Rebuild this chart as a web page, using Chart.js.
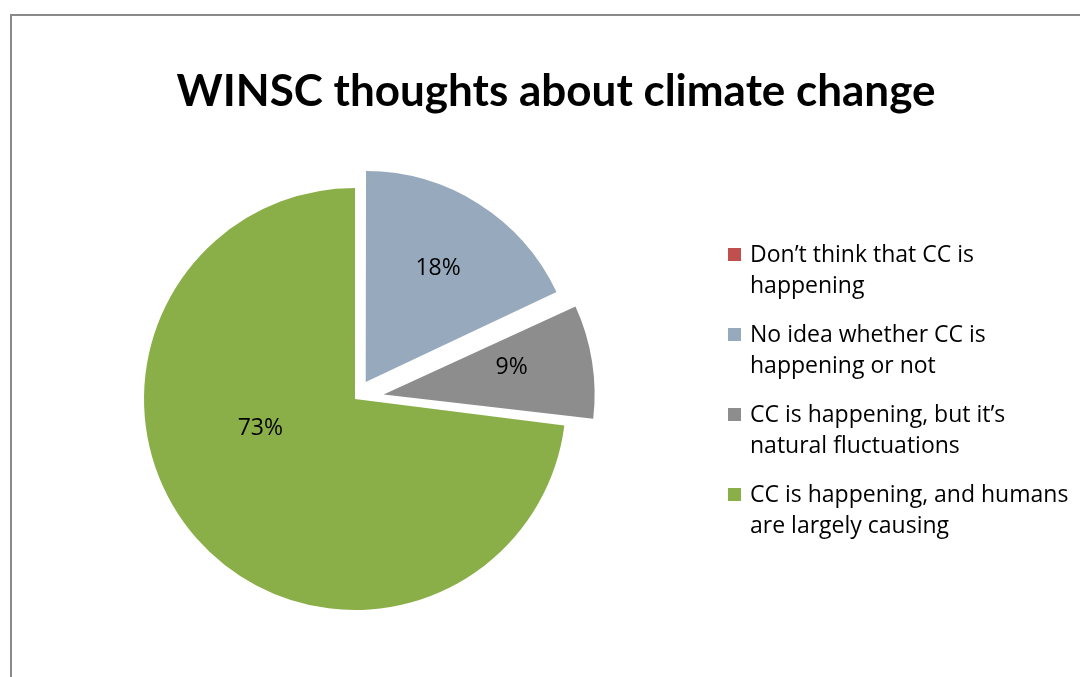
<!DOCTYPE html>
<html>
<head>
<meta charset="utf-8">
<script src="https://cdn.jsdelivr.net/npm/chart.js@4"></script>
<style>
  html, body { margin: 0; padding: 0; background: #fff; }
  #wrap { position: relative; width: 1080px; height: 677px; overflow: hidden; }
  #frame { position: absolute; left: 10px; top: 14px; width: 1200px; height: 800px;
           border-left: 2px solid #8a8a8a; border-top: 2px solid #8a8a8a; }
  #title { position: absolute; left: 0; top: 63px; width: 1112px; text-align: center;
           font-family: Lato, sans-serif; font-weight: bold; font-size: 44px; color: #000; line-height: 52px; }
  #legend { position: absolute; left: 728px; top: 238px; font-family: "Open Sans", sans-serif; font-size: 23px; color: #000; }
  .item { position: relative; padding-left: 22px; line-height: 31px; margin-bottom: 18px; }
  .box { position: absolute; left: 0; top: 10px; width: 13px; height: 13px; }
  canvas { position: absolute; left: 0; top: 0; }
</style>
</head>
<body>
<div id="wrap">
  <div id="frame"></div>
  <canvas id="c" width="1080" height="677"></canvas>
  <div id="title"></div>
  <div id="legend"></div>
</div>
<script>
const chartTitle = "WINSC thoughts about climate change";
const categories = [
  ["Don\u2019t think that CC is", "happening"],
  ["No idea whether CC is", "happening or not"],
  ["CC is happening, but it\u2019s", "natural fluctuations"],
  ["CC is happening, and humans", "are largely causing"]
];
const values = [0, 18, 9, 73];
const colors = ["#C0504D", "#97A9BC", "#8D8D8D", "#8BAF48"];
const explode = [0, 80, 116, 0];

document.getElementById('title').textContent = chartTitle;
const leg = document.getElementById('legend');
categories.forEach((lines, i) => {
  const d = document.createElement('div');
  d.className = 'item';
  const b = document.createElement('span');
  b.className = 'box';
  b.style.background = colors[i];
  d.appendChild(b);
  lines.forEach((t, k) => {
    if (k) d.appendChild(document.createElement('br'));
    d.appendChild(document.createTextNode(t));
  });
  leg.appendChild(d);
});

// keep exploded slices at the same visible radius as the rest of the pie
const keepRadius = {
  id: 'keepRadius',
  afterDatasetUpdate(chart, args) {
    const meta = args.meta;
    const R = meta.controller.outerRadius;
    meta.data.forEach((arc, i) => {
      const off = (chart.data.datasets[0].offset[i] || 0) / 4;
      const circ = arc.circumference;
      const fix = 1 - Math.sin(Math.min(Math.PI, circ || 0));
      arc.outerRadius = R - off * fix;
    });
  }
};

const pctLabels = {
  id: 'pctLabels',
  afterDatasetsDraw(chart, args, opts) {
    const ctx = chart.ctx;
    const meta = chart.getDatasetMeta(0);
    const ds = chart.data.datasets[0];
    const R = meta.controller.outerRadius;
    ctx.save();
    ctx.font = opts.font;
    ctx.fillStyle = '#000';
    ctx.textAlign = 'center';
    ctx.textBaseline = 'middle';
    meta.data.forEach((arc, i) => {
      const v = ds.data[i];
      if (!v) return;
      const p = arc.getProps(['x', 'y', 'startAngle', 'endAngle']);
      const mid = (p.startAngle + p.endAngle) / 2;
      const off = (ds.offset[i] || 0) / 4;
      const ang = mid + (opts.shift[i] || 0) * Math.PI / 180;
      const ox = p.x + Math.cos(mid) * off;
      const oy = p.y + Math.sin(mid) * off;
      const r = opts.frac[i] * R;
      ctx.fillText(v + '%', ox + Math.cos(ang) * r, oy + Math.sin(ang) * r);
    });
    ctx.restore();
  }
};

new Chart(document.getElementById('c'), {
  type: 'pie',
  data: {
    labels: categories.map(l => l.join(' ')),
    datasets: [{
      data: values,
      backgroundColor: colors,
      borderWidth: 0,
      offset: explode
    }]
  },
  options: {
    responsive: false,
    animation: false,
    devicePixelRatio: 1,
    radius: 211,
    layout: { padding: { left: 144, right: 514, top: 188, bottom: 67 } },
    plugins: {
      legend: { display: false },
      title: { display: false },
      tooltip: { enabled: false },
      pctLabels: { font: '23px "Open Sans", sans-serif', frac: [0.6, 0.64, 0.62, 0.47], shift: [0, 0, -3, 24] }
    }
  },
  plugins: [keepRadius, pctLabels]
});
</script>
</body>
</html>
